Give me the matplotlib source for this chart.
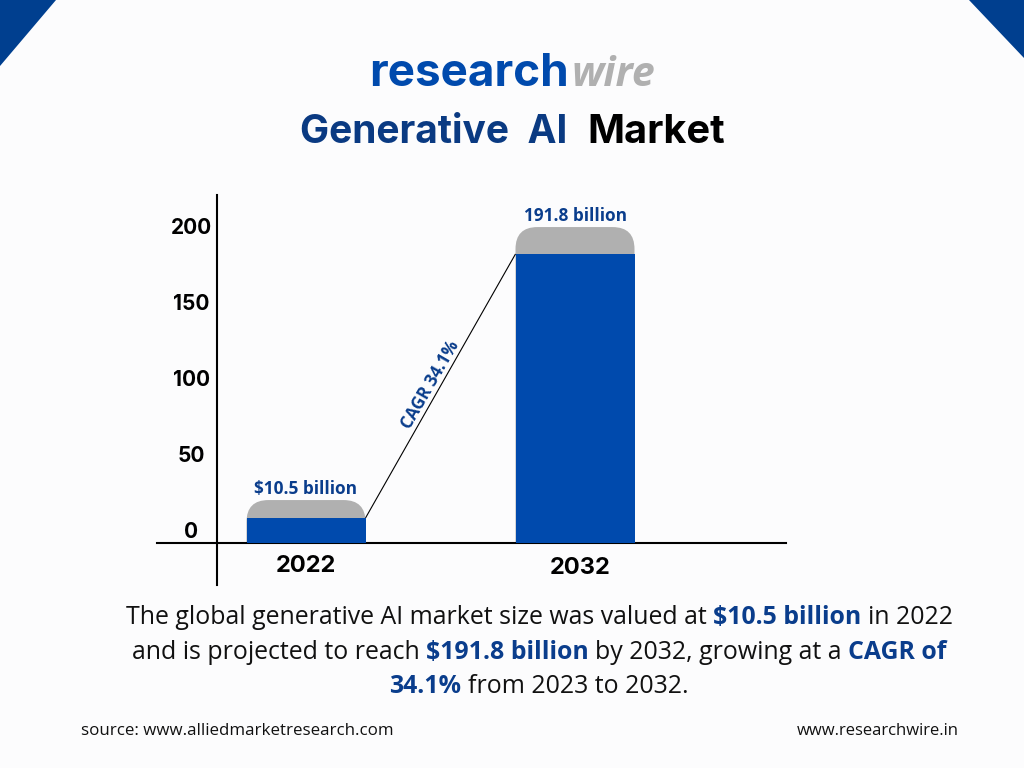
import matplotlib
matplotlib.use("Agg")
import matplotlib.pyplot as plt
from matplotlib.patches import PathPatch, Polygon
from matplotlib.path import Path
from matplotlib.transforms import ScaledTranslation

# ---- data (read against the printed axis) ----
years = ["2022", "2032"]
positions = [0, 1]
total_tops = [19.7, 199.3]
blue_tops = [7.9, 181.6]
baseline = -8.55
bar_labels = ["$10.5 billion", "191.8 billion"]
y_ticks = [0, 50, 100, 150, 200]
cagr_label = "CAGR 34.1%"

W, H = 1024, 768
BG = "#fcfcfd"
BLUE = "#004aad"
NAVY = "#0a3d8c"
GREY = "#b0b0b0"
BODY = "Open Sans"

fig = plt.figure(figsize=(W / 100, H / 100), dpi=100, facecolor=BG)


def fx(x):
    return x / W


def fy(y):
    return 1 - y / H


# chart axes
L, R, T, B = 157, 786, 195, 585
ax = fig.add_axes([fx(L), fy(B), (R - L) / W, (B - T) / H], facecolor="none")
px_x = 269.0
px_y = 1.52
ax.set_xlim((L - 306) / px_x, (R - 306) / px_x)
ax.set_ylim((530 - B) / px_y, (530 - T) / px_y)
bar_w = 119 / px_x
rx, ry = 22 / px_x, 22 / px_y

for s in ("top", "right"):
    ax.spines[s].set_visible(False)
ax.spines["left"].set_position(("data", (217 - 306) / px_x))
ax.spines["bottom"].set_position(("data", baseline))
for s in ("left", "bottom"):
    ax.spines[s].set_linewidth(1.5)
    ax.spines[s].set_color("#000000")

# rounded grey tops, blue bodies
for xc, top in zip(positions, total_tops):
    x0, x1 = xc - bar_w / 2, xc + bar_w / 2
    verts = [(x0, baseline), (x0, top - ry), (x0, top), (x0 + rx, top),
             (x1 - rx, top), (x1, top), (x1, top - ry), (x1, baseline), (x0, baseline)]
    codes = [Path.MOVETO, Path.LINETO, Path.CURVE3, Path.CURVE3,
             Path.LINETO, Path.CURVE3, Path.CURVE3, Path.LINETO, Path.CLOSEPOLY]
    ax.add_patch(PathPatch(Path(verts, codes), facecolor=GREY, edgecolor="none", zorder=2))
ax.bar(positions, [b - baseline for b in blue_tops], width=bar_w, bottom=baseline,
       color=BLUE, zorder=3)

# connector between bar shoulders
ax.plot([positions[0] + bar_w / 2, positions[1] - bar_w / 2], blue_tops,
        color="#000000", lw=0.8, zorder=2, solid_capstyle="butt")

# ticks
ax.set_yticks(y_ticks)
ax.set_yticklabels([str(v) for v in y_ticks], fontfamily="Inter", fontweight="bold",
                   fontsize=15, color="#000000", ha="center", va="center")
ax.tick_params(axis="y", length=0, pad=26 * 0.72)
for lab in ax.get_yticklabels():
    lab.set_transform(lab.get_transform() + ScaledTranslation(0, -1.5 / 100, fig.dpi_scale_trans))
ax.set_xticks(positions)
ax.set_xticklabels(years, fontfamily="Inter", fontweight="bold", fontsize=17, color="#000000")
ax.tick_params(axis="x", length=0, pad=9)
lab2 = ax.get_xticklabels()[1]
lab2.set_transform(lab2.get_transform() + ScaledTranslation(5 / 100, -2 / 100, fig.dpi_scale_trans))

# value labels
for xc, top, t in zip(positions, total_tops, bar_labels):
    ax.annotate(t, (xc, top), xytext=(0, 2), textcoords="offset pixels", ha="center", va="bottom",
                fontfamily=BODY, fontweight="bold", fontsize=12.4, color=NAVY)

ax.text((430 - 306) / px_x, (530 - 385) / px_y, cagr_label, rotation=60, rotation_mode="anchor",
        ha="center", va="center", fontfamily=BODY, fontweight="bold", fontsize=12.2, color=NAVY)

# corner triangles
fig.add_artist(Polygon([(fx(0), fy(0)), (fx(56), fy(0)), (fx(0), fy(66))], closed=True,
                       transform=fig.transFigure, facecolor="#003f8f", edgecolor="none"))
fig.add_artist(Polygon([(fx(969), fy(0)), (fx(1024), fy(0)), (fx(1024), fy(58))], closed=True,
                       transform=fig.transFigure, facecolor="#003f8f", edgecolor="none"))

renderer = fig.canvas.get_renderer()


def line(pieces, cx, y_base, size):
    """Lay out (text, weight, colour) pieces centred on cx with a shared baseline."""
    artists = []
    for t, w, c in pieces:
        artists.append(fig.text(0, fy(y_base), t, fontfamily=BODY, fontsize=size, fontweight=w,
                                color=c, va="baseline", ha="left"))
    widths = [a.get_window_extent(renderer).width for a in artists]
    space = fig.text(0, 0, "a a", fontfamily=BODY, fontsize=size)
    noa = fig.text(0, 0, "aa", fontfamily=BODY, fontsize=size)
    sp = space.get_window_extent(renderer).width - noa.get_window_extent(renderer).width
    space.remove()
    noa.remove()
    total = sum(widths) + sp * (len(pieces) - 1)
    x = cx - total / 2
    for a, wd in zip(artists, widths):
        a.set_x(fx(x))
        x += wd + sp


# logo
fig.text(fx(569), fy(86), "research", ha="right", va="baseline", fontfamily="Inter", fontweight="bold",
         fontsize=33, color=BLUE)
fig.text(fx(571), fy(86), "wire", ha="left", va="baseline", fontfamily="Open Sans", fontweight="bold",
         fontstyle="italic", fontsize=29.5, color=GREY)

# title
fig.text(fx(567), fy(143), "Generative  AI", ha="right", va="baseline", fontfamily="Inter", fontweight="bold",
         fontsize=28, color="#0a3a82")
fig.text(fx(587), fy(143), "Market", ha="left", va="baseline", fontfamily="Inter", fontweight="bold",
         fontsize=28.6, color="#000000")

# paragraph
N, Bd = "normal", "bold"
K = "#111111"
SZ = 17.9
line([("The global generative AI market size was valued at", N, K), ("$10.5 billion", Bd, NAVY), ("in 2022", N, K)],
     539, 624, SZ)
line([("and is projected to reach", N, K), ("$191.8 billion", Bd, NAVY), ("by 2032, growing at a", N, K),
      ("CAGR of", Bd, NAVY)], 539, 659, SZ)
line([("34.1%", Bd, NAVY), ("from 2023 to 2032.", N, K)], 539, 693, SZ)

# footer
fig.text(fx(81), fy(735), "source: www.alliedmarketresearch.com", fontfamily=BODY, fontsize=12.2, color=K,
         va="baseline")
fig.text(fx(959), fy(735), "www.researchwire.in", fontfamily=BODY, fontsize=12.0, color=K, va="baseline", ha="right")

fig.savefig("out.png", dpi=100, facecolor=BG)
